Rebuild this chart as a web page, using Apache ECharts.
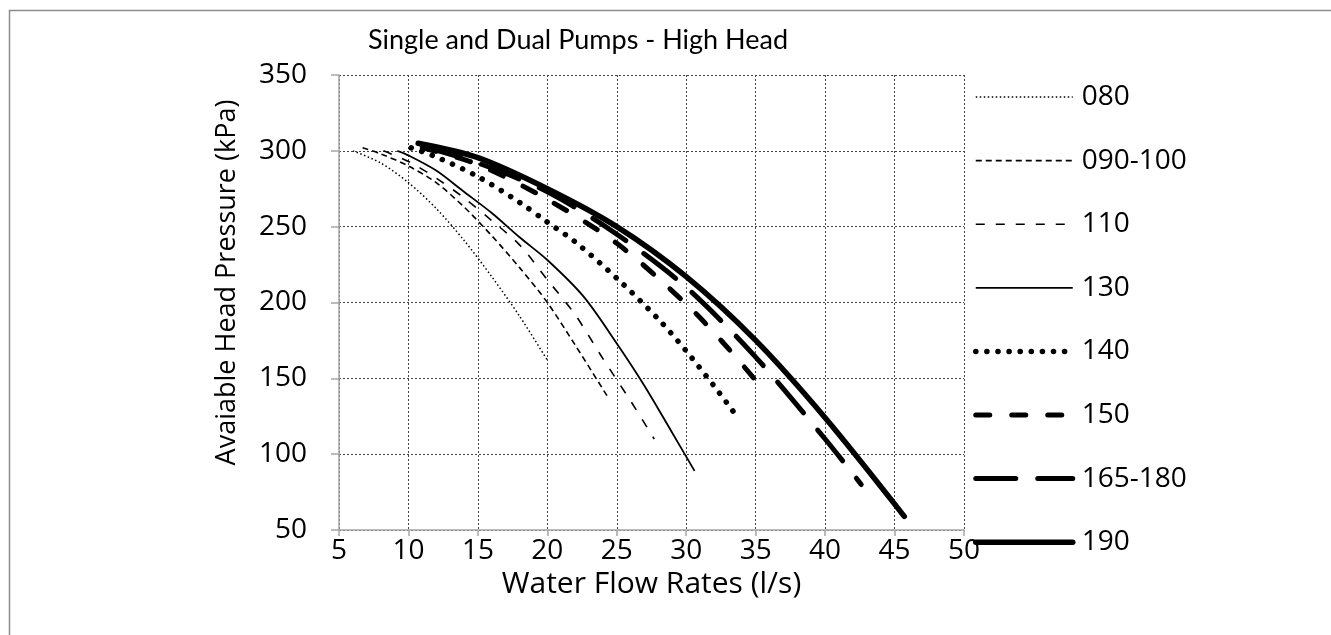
<!DOCTYPE html>
<html>
<head>
<meta charset="utf-8">
<title>Single and Dual Pumps - High Head</title>
<script src="https://cdn.jsdelivr.net/npm/echarts@6/dist/echarts.min.js"></script>
<style>
  html, body { margin: 0; padding: 0; background: #fff; }
  #chart { width: 1331px; height: 635px; }
</style>
</head>
<body>
<div id="chart"></div>
<script>
// series names (legend order)
const seriesNames = ['080', '090-100', '110', '130', '140', '150', '165-180', '190'];

// flow (l/s) and head (kPa), one pair of arrays per pump
const flow080 = [6, 8, 10, 12, 14, 16, 18, 20];
const head080 = [300, 292, 279, 262, 241, 217, 191, 162];

const flow090 = [6.7, 8, 10, 12, 14, 16, 18, 20, 22, 24.4];
const head090 = [302, 298, 290, 279, 263, 244, 223, 200, 172, 137];

const flow110 = [8.2, 10, 12, 14, 16, 18, 20, 22, 24, 26, 27.7];
const head110 = [300, 293, 282, 269, 254, 238, 215, 192, 163, 135, 110];

const flow130 = [9.2, 10, 12, 14, 16, 18, 20, 22.6, 25, 27, 29, 30.6];
const head130 = [300, 297, 287, 273, 259, 243, 228, 204, 173, 145, 114, 89];

const flow140 = [10.2, 12, 15, 18, 20, 22, 25, 28, 30, 32, 33.4];
const head140 = [302, 296, 283, 266, 253, 240, 216, 189, 168, 145, 128];

const flow150 = [11, 15, 20, 25, 30, 33, 35.7];
const head150 = [302, 291, 268, 239, 199, 170, 141];

const flow165 = [11, 15, 20, 25, 30, 35, 40, 42.6];
const head165 = [303, 292, 273, 245, 210, 164, 110, 80];

const flow190 = [10.7, 15, 20, 25, 30, 35, 40, 45.7];
const head190 = [305, 295.5, 275, 250, 217, 175, 124, 59];

// axis ticks
const xTicks = [5, 10, 15, 20, 25, 30, 35, 40, 45, 50];
const yTicks = [50, 100, 150, 200, 250, 300, 350];

const flows = [flow080, flow090, flow110, flow130, flow140, flow150, flow165, flow190];
const heads = [head080, head090, head110, head130, head140, head150, head165, head190];

// line looks, same order as seriesNames
const lineLooks = [
  { width: 1.5, type: [1.5, 2.5], cap: 'butt' },
  { width: 1.6, type: [6, 4], cap: 'butt' },
  { width: 1.6, type: [9, 11], cap: 'butt' },
  { width: 1.8, type: 'solid', cap: 'butt' },
  { width: 5.5, type: [0.1, 11], cap: 'round' },
  { width: 5, type: [14, 22], cap: 'round' },
  { width: 5, type: [40, 22], cap: 'round' },
  { width: 5.5, type: 'solid', cap: 'round' }
];

const font = '"Open Sans", "Noto Sans", sans-serif';
const titleFont = 'Lato, "Open Sans", sans-serif';

const chart = echarts.init(document.getElementById('chart'));

const series = seriesNames.map((name, i) => ({
  name: name,
  type: 'line',
  data: flows[i].map((x, k) => [x, heads[i][k]]),
  smooth: 0.3,
  symbol: 'none',
  lineStyle: {
    color: '#000',
    width: lineLooks[i].width,
    type: lineLooks[i].type,
    cap: lineLooks[i].cap
  },
  itemStyle: { color: '#000' },
  emphasis: { disabled: true },
  animation: false
}));

const option = {
  backgroundColor: '#fff',
  animation: false,
  title: {
    text: 'Single and Dual Pumps - High Head',
    left: 573,
    top: 22,
    textAlign: 'center',
    textStyle: { fontFamily: titleFont, fontSize: 27, fontWeight: 'normal', color: '#000' }
  },
  graphic: [
    {
      type: 'rect',
      left: 7,
      top: 8,
      shape: { width: 1400, height: 700 },
      style: { fill: 'none', stroke: '#8c8c8c', lineWidth: 1.5 },
      silent: true
    }
  ],
  legend: {
    orient: 'vertical',
    left: 973,
    top: 83,
    padding: 0,
    itemWidth: 97,
    itemHeight: 24,
    itemGap: 35.6,
    itemStyle: { opacity: 0 },
    lineStyle: { width: 'inherit' },
    textStyle: { fontFamily: font, fontSize: 28, color: '#000', lineHeight: 24, padding: [0, 0, 0, 4] },
    data: seriesNames,
    selectedMode: false
  },
  grid: {
    left: 339,
    right: 367,
    top: 75,
    bottom: 105,
    containLabel: false
  },
  xAxis: {
    type: 'value',
    min: xTicks[0],
    max: xTicks[xTicks.length - 1],
    interval: 5,
    name: 'Water Flow Rates (l/s)',
    nameLocation: 'middle',
    nameGap: 38,
    nameTextStyle: { fontFamily: font, fontSize: 30, color: '#000' },
    axisLine: { show: true, lineStyle: { color: '#a6a6a6', width: 1.5 } },
    axisTick: { show: true, length: 6, lineStyle: { color: '#a6a6a6', width: 1.5 } },
    axisLabel: { margin: 7, fontFamily: font, fontSize: 28, color: '#000' },
    splitLine: { show: true, lineStyle: { color: '#444', width: 1, type: [2, 2] } }
  },
  yAxis: {
    type: 'value',
    min: yTicks[0],
    max: yTicks[yTicks.length - 1],
    interval: 50,
    name: 'Avaiable Head Pressure (kPa)',
    nameLocation: 'middle',
    nameGap: 98,
    nameTextStyle: { fontFamily: font, fontSize: 27, color: '#000', padding: [0, 0, 0, 40] },
    axisLine: { show: true, lineStyle: { color: '#a6a6a6', width: 1.5 } },
    axisTick: { show: true, length: 8, lineStyle: { color: '#a6a6a6', width: 1.5 } },
    axisLabel: { margin: 32, fontFamily: font, fontSize: 28, color: '#000' },
    splitLine: { show: true, lineStyle: { color: '#444', width: 1, type: [2, 2] } }
  },
  series: series
};

chart.setOption(option);
</script>
</body>
</html>
